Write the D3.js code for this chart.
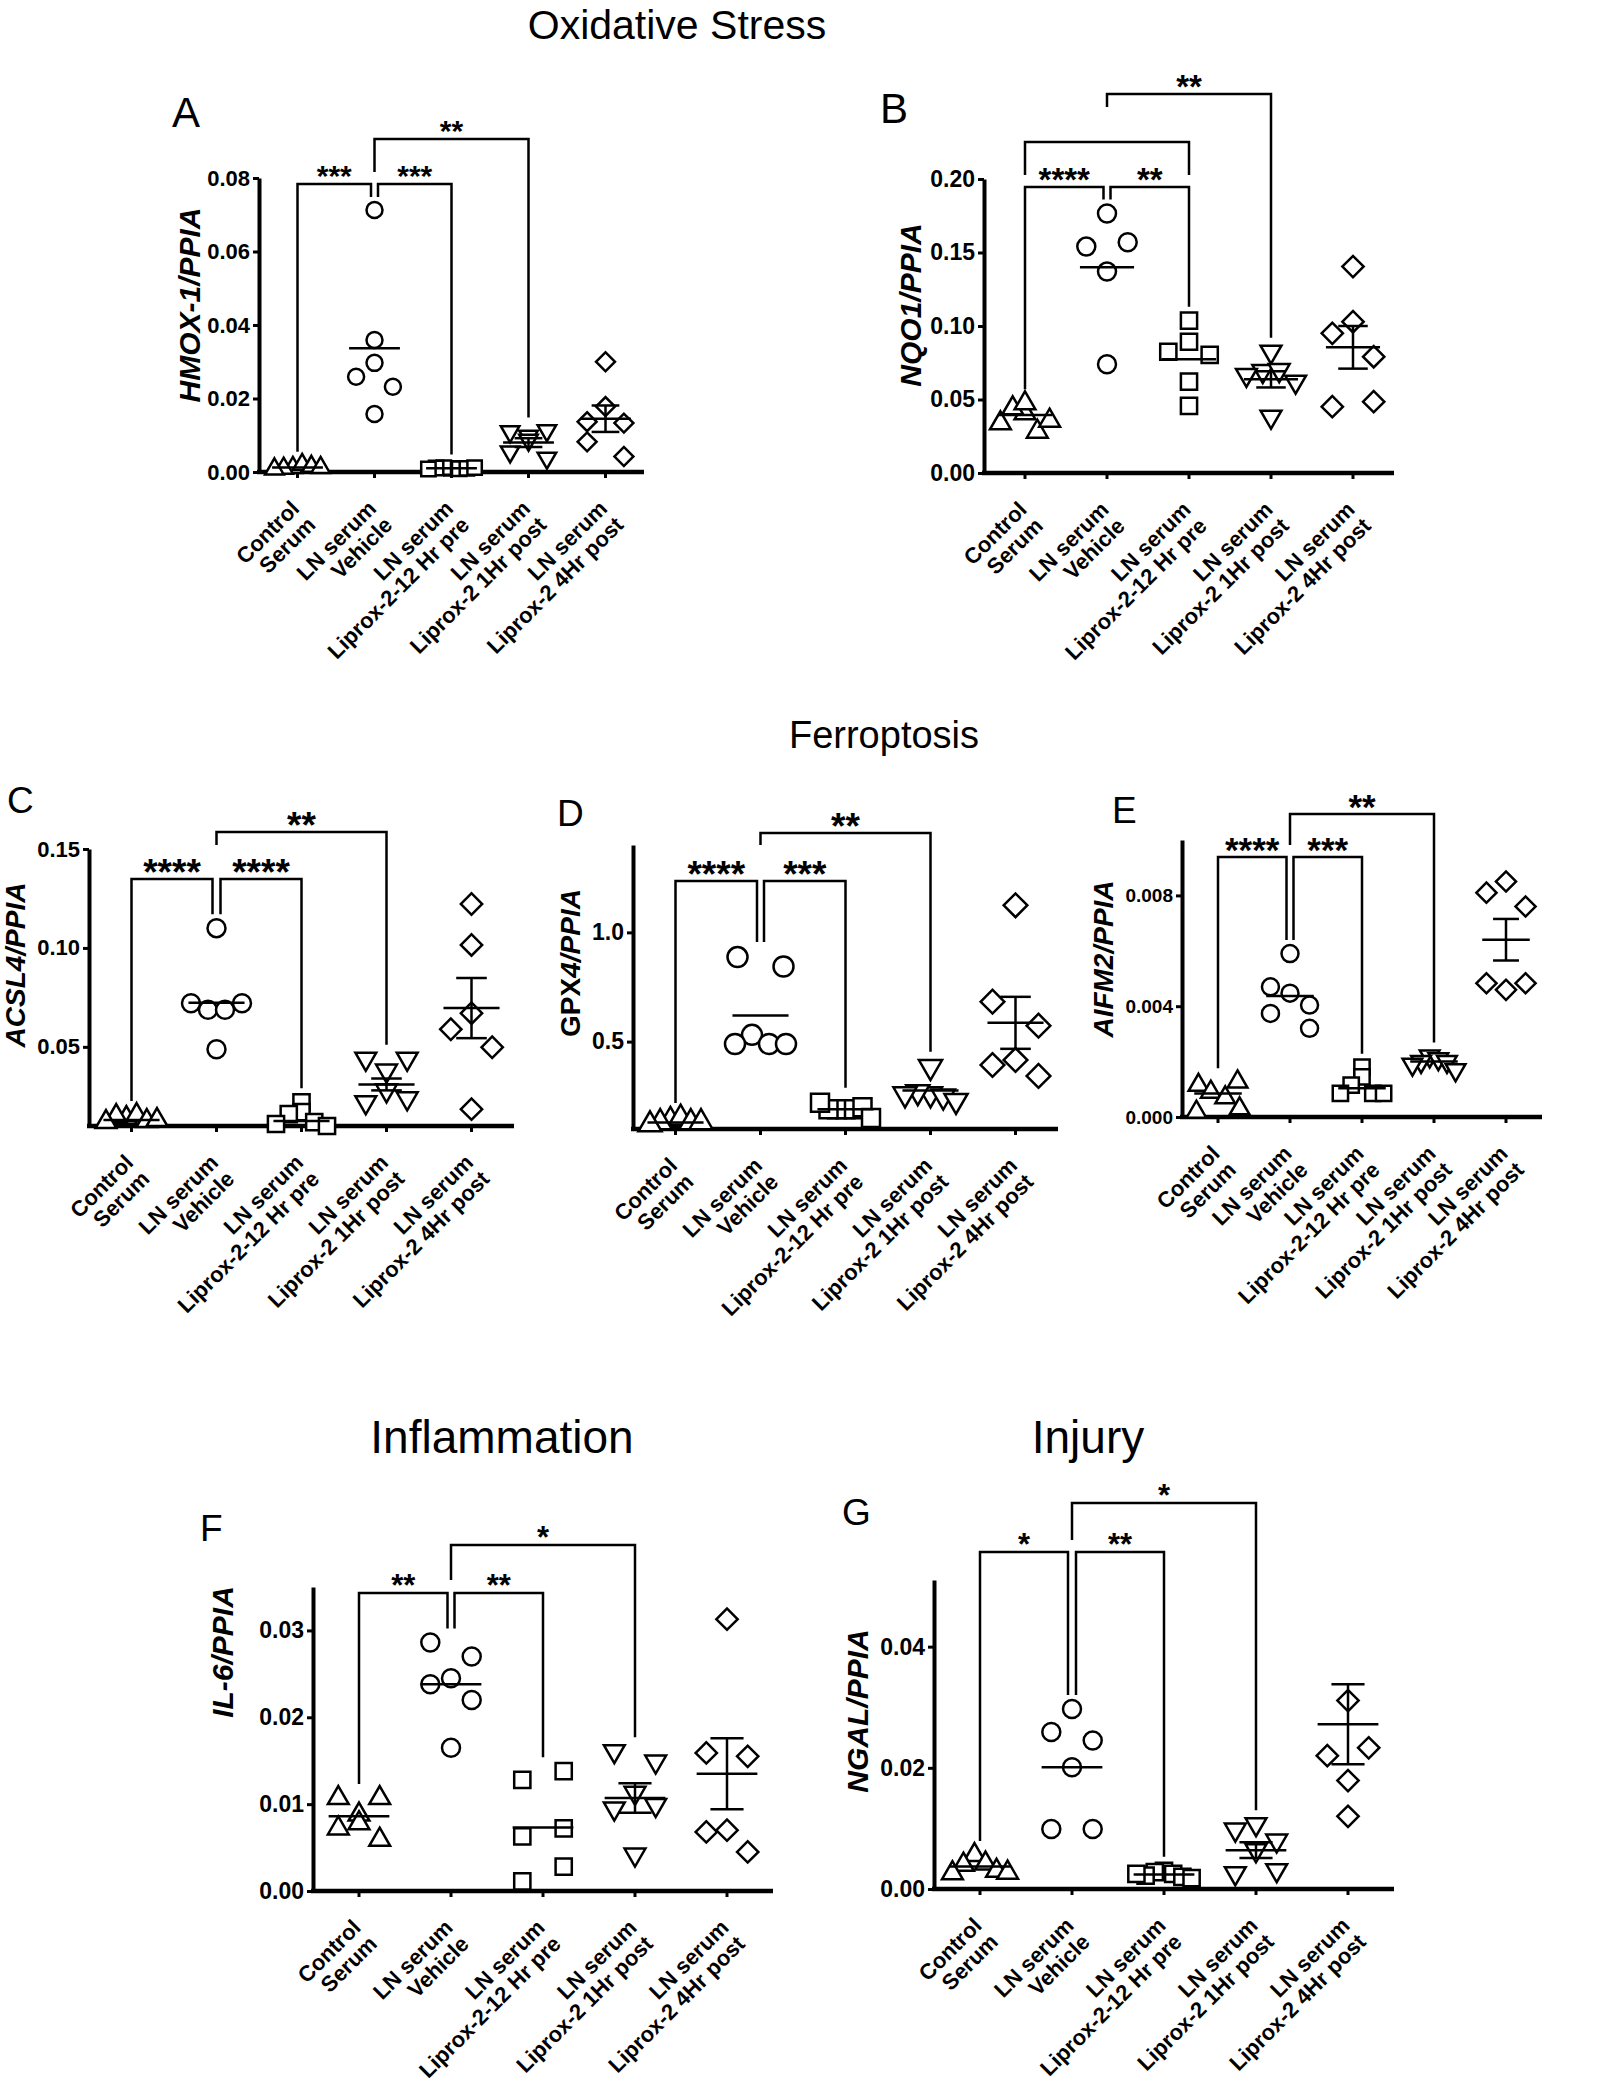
<!DOCTYPE html>
<html><head><meta charset="utf-8">
<script src="https://cdn.jsdelivr.net/npm/d3@7"></script>
<style>
body{margin:0;background:#fff}
svg{display:block}
text{font-family:"Liberation Sans",Arial,Helvetica,sans-serif;fill:#000}
</style>
</head><body>
<svg id="fig" width="1621" height="2100"></svg>
<script>
// ---------- shared categories ----------
const categoryLines = [
  ["Control", "Serum"],
  ["LN serum", "Vehicle"],
  ["LN serum", "Liprox-2-12 Hr pre"],
  ["LN serum", "Liprox-2 1Hr post"],
  ["LN serum", "Liprox-2 4Hr post"]
];
const markerShapes = ["triangleUp", "circle", "square", "triangleDown", "diamond"];
const sectionTitles = ["Oxidative Stress", "Ferroptosis", "Inflammation", "Injury"];

// ---------- A: HMOX-1/PPIA ----------
const hmoxValues = [
  [0.0012, 0.0020, 0.0010, 0.0015, 0.0008, 0.0012],
  [0.0713, 0.0359, 0.0297, 0.0259, 0.0232, 0.0158],
  [0.0010, 0.0012, 0.0009, 0.0011, 0.0010, 0.0008, 0.0012],
  [0.0098, 0.0110, 0.0113, 0.0087, 0.0055, 0.0038],
  [0.0300, 0.0178, 0.0137, 0.0133, 0.0082, 0.0042]
];
const hmoxMeans = [0.0012, 0.0337, 0.0010, 0.0080, 0.0145];
const hmoxSem = [null, null, null, 0.0012, 0.0036];
const hmoxTicks = [0, 0.02, 0.04, 0.06, 0.08];
const hmoxStars = [[0, 1, "***"], [1, 2, "***"], [1, 3, "**"]];

// ---------- B: NQO1/PPIA ----------
const nqoValues = [
  [0.0406, 0.0440, 0.0474, 0.0281, 0.0338, 0.0356],
  [0.1766, 0.1540, 0.1570, 0.1370, 0.0740],
  [0.1036, 0.0893, 0.0825, 0.0803, 0.0621, 0.0456],
  [0.0825, 0.0694, 0.0700, 0.0667, 0.0621, 0.0383],
  [0.1404, 0.1029, 0.0950, 0.0791, 0.0451, 0.0485]
];
const nqoMeans = [0.0395, 0.1400, 0.0773, 0.0637, 0.0855];
const nqoSem = [null, null, null, 0.0055, 0.0145];
const nqoTicks = [0, 0.05, 0.10, 0.15, 0.20];
const nqoStars = [[0, 1, "****"], [1, 2, "**"], [0, 2, ""], [1, 3, "**"]];

// ---------- C: ACSL4/PPIA ----------
const acslValues = [
  [0.0140, 0.0155, 0.0150, 0.0125, 0.0120, 0.0130],
  [0.1100, 0.0687, 0.0687, 0.0720, 0.0720, 0.0488],
  [0.0220, 0.0170, 0.0160, 0.0120, 0.0110, 0.0100],
  [0.0380, 0.0440, 0.0440, 0.0280, 0.0220, 0.0240],
  [0.1222, 0.1015, 0.0670, 0.0589, 0.0498, 0.0185]
];
const acslMeans = [0.0130, 0.0723, 0.0125, 0.0310, 0.0696];
const acslSem = [null, null, null, 0.0030, 0.0152];
const acslTicks = [0.05, 0.10, 0.15];
const acslStars = [[0, 1, "****"], [1, 2, "****"], [1, 3, "**"]];

// ---------- D: GPX4/PPIA ----------
const gpxValues = [
  [0.14, 0.15, 0.13, 0.13, 0.12, 0.13],
  [0.887, 0.844, 0.531, 0.489, 0.489, 0.489],
  [0.19, 0.19, 0.19, 0.19, 0.20, 0.22, 0.15],
  [0.385, 0.26, 0.27, 0.25, 0.26, 0.23],
  [1.124, 0.683, 0.573, 0.416, 0.393, 0.343]
];
const gpxMeans = [0.13, 0.619, 0.19, 0.276, 0.586];
const gpxSem = [null, null, null, null, 0.119];
const gpxTicks = [0.5, 1.0];
const gpxStars = [[0, 1, "****"], [1, 2, "***"], [1, 3, "**"]];

// ---------- E: AIFM2/PPIA ----------
const aifmValues = [
  [0.00115, 0.00127, 0.0009, 0.0007, 0.00018, 0.0003],
  [0.0059, 0.00447, 0.0047, 0.00404, 0.00374, 0.0032],
  [0.0018, 0.00145, 0.00115, 0.00085, 0.00085, 0.00085],
  [0.0022, 0.0021, 0.0020, 0.0020, 0.0019, 0.0017],
  [0.0085, 0.0081, 0.0076, 0.00459, 0.00483, 0.00483]
];
const aifmMeans = [0.00085, 0.00437, 0.00104, 0.0020, 0.0064];
const aifmSem = [null, null, null, null, 0.00075];
const aifmTicks = [0, 0.004, 0.008];
const aifmStars = [[0, 1, "****"], [1, 2, "***"], [1, 3, "**"]];

// ---------- F: IL-6/PPIA ----------
const il6Values = [
  [0.0088, 0.0107, 0.0107, 0.0078, 0.0072, 0.0059],
  [0.0286, 0.0270, 0.0245, 0.0238, 0.0220, 0.0165],
  [0.0128, 0.0138, 0.0063, 0.0072, 0.0011, 0.0028],
  [0.0161, 0.0149, 0.0113, 0.0095, 0.0099, 0.0042],
  [0.0313, 0.0159, 0.0155, 0.0070, 0.0068, 0.0045]
];
const il6Means = [0.0086, 0.0238, 0.0073, 0.0107, 0.0135];
const il6Sem = [null, null, null, 0.0017, 0.0041];
const il6Ticks = [0, 0.01, 0.02, 0.03];
const il6Stars = [[0, 1, "**"], [1, 2, "**"], [1, 3, "*"]];

// ---------- G: NGAL/PPIA ----------
const ngalValues = [
  [0.0056, 0.0042, 0.0040, 0.0030, 0.0026, 0.0027],
  [0.0297, 0.0259, 0.0245, 0.0201, 0.0099, 0.0099],
  [0.0030, 0.0028, 0.0025, 0.0022, 0.0020, 0.0025, 0.0018],
  [0.0107, 0.0098, 0.0080, 0.0064, 0.0026, 0.0031],
  [0.0311, 0.0220, 0.0233, 0.0179, 0.0120]
];
const ngalMeans = [0.0037, 0.0201, 0.0024, 0.0064, 0.0272];
const ngalSem = [null, null, null, 0.0013, 0.0066];
const ngalTicks = [0, 0.02, 0.04];
const ngalStars = [[0, 1, "*"], [1, 2, "**"], [1, 3, "*"]];

// ---------- layout (positions / sizes only) ----------
const panels = [
  {letter: "A", lx: 172, ly: 127, lsize: 42, values: hmoxValues, means: hmoxMeans, sem: hmoxSem, ticks: hmoxTicks, stars: hmoxStars,
   fmt: ".2f", domain: [0, 0.08], x0: 259, x1: 644, yBot: 472, yTop: 178, s: 16, starSize: 30, tickSize: 22,
   ylabel: [["HMOX-1/PPIA", "italic"]], yx: 200, yy: 305, ysize: 30,
   br: [{y: 184, legs: ["d", "d"], dx: [0, -3.5]}, {y: 184, legs: ["d", "d"], dx: [3.5, 0]}, {y: 139, legs: [33, "d"], dx: [0, 0]}]},
  {letter: "B", lx: 880, ly: 123, lsize: 42, values: nqoValues, means: nqoMeans, sem: nqoSem, ticks: nqoTicks, stars: nqoStars,
   fmt: ".2f", domain: [0, 0.20], x0: 984, x1: 1394, yBot: 473, yTop: 179, s: 18, starSize: 33, tickSize: 23,
   ylabel: [["NQO1/PPIA", "italic"]], yx: 921, yy: 305, ysize: 30,
   br: [{y: 187, legs: ["d", "d"], dx: [0, -3.5]}, {y: 187, legs: ["d", "d"], dx: [3.5, 0]}, {y: 142, legs: [33, 33], dx: [0, 0]}, {y: 94, legs: [13, "d"], dx: [0, 0]}]},
  {letter: "C", lx: 7, ly: 813, lsize: 37, values: acslValues, means: acslMeans, sem: acslSem, ticks: acslTicks, stars: acslStars,
   fmt: ".2f", domain: [0.01, 0.15], x0: 89, x1: 514, yBot: 1126, yTop: 849, s: 18, starSize: 37, tickSize: 22,
   ylabel: [["ACSL4/PPIA", "italic"]], yx: 25, yy: 965, ysize: 28,
   br: [{y: 879, legs: ["d", "d"], dx: [0, -4]}, {y: 879, legs: ["d", "d"], dx: [4, 0]}, {y: 832, legs: [13, "d"], dx: [0, 0]}]},
  {letter: "D", lx: 557, ly: 826, lsize: 37, values: gpxValues, means: gpxMeans, sem: gpxSem, ticks: gpxTicks, stars: gpxStars,
   fmt: ".1f", domain: [0.1, 1.4], x0: 633, x1: 1058, yBot: 1129, yTop: 845, s: 20, starSize: 37, tickSize: 23,
   ylabel: [["GPX", "normal"], ["4/PPIA", "italic"]], yx: 580, yy: 963, ysize: 28,
   br: [{y: 881, legs: ["d", "d"], dx: [0, -3.5]}, {y: 881, legs: ["d", "d"], dx: [3.5, 0]}, {y: 833, legs: [12, "d"], dx: [0, 0]}]},
  {letter: "E", lx: 1112, ly: 823, lsize: 37, values: aifmValues, means: aifmMeans, sem: aifmSem, ticks: aifmTicks, stars: aifmStars,
   fmt: ".3f", domain: [0, 0.010], x0: 1182, x1: 1542, yBot: 1117, yTop: 840, s: 17, starSize: 35, tickSize: 19,
   ylabel: [["AIFM2/PPIA", "italic"]], yx: 1113, yy: 959, ysize: 28,
   br: [{y: 857, legs: ["d", "d"], dx: [0, -3.5]}, {y: 857, legs: ["d", "d"], dx: [3.5, 0]}, {y: 814, legs: [31, "d"], dx: [0, 0]}]},
  {letter: "F", lx: 200, ly: 1541, lsize: 37, values: il6Values, means: il6Means, sem: il6Sem, ticks: il6Ticks, stars: il6Stars,
   fmt: ".2f", domain: [0, 0.035], x0: 313, x1: 773, yBot: 1891, yTop: 1587, s: 18, starSize: 31, tickSize: 23,
   ylabel: [["IL-6/PPIA", "italic"]], yx: 233, yy: 1652, ysize: 30,
   br: [{y: 1593, legs: ["d", "d"], dx: [0, -3.5]}, {y: 1593, legs: ["d", "d"], dx: [3.5, 0]}, {y: 1545, legs: [35, "d"], dx: [0, 0]}]},
  {letter: "G", lx: 842, ly: 1525, lsize: 37, values: ngalValues, means: ngalMeans, sem: ngalSem, ticks: ngalTicks, stars: ngalStars,
   fmt: ".2f", domain: [0, 0.051], x0: 934, x1: 1394, yBot: 1889, yTop: 1580, s: 18, starSize: 31, tickSize: 23,
   ylabel: [["NGAL/PPIA", "italic"]], yx: 868, yy: 1711, ysize: 30,
   br: [{y: 1552, legs: ["d", "d"], dx: [0, -4]}, {y: 1552, legs: ["d", "d"], dx: [4, 0]}, {y: 1503, legs: [37, "d"], dx: [0, 0]}]}
];
const titleLayout = [
  {x: 677, y: 39, size: 41}, {x: 884, y: 748, size: 38}, {x: 502, y: 1453, size: 46}, {x: 1088, y: 1453, size: 46}
];

const svg = d3.select("#fig");

// section titles
svg.selectAll("text.title").data(sectionTitles).join("text").attr("class", "title")
  .attr("x", (d, i) => titleLayout[i].x).attr("y", (d, i) => titleLayout[i].y)
  .attr("text-anchor", "middle").attr("font-size", (d, i) => titleLayout[i].size).text(d => d);

function markerPath(type, s) {
  switch (type) {
    case "circle": return d3.symbol(d3.symbolCircle, Math.PI * s * s / 4)();
    case "square": return d3.symbol(d3.symbolSquare, (0.9 * s) ** 2)();
    case "diamond": return d3.symbol(d3.symbolSquare, 0.7 * s * s)();
    default: return d3.symbol(d3.symbolTriangle, 0.58 * s * s)();
  }
}
function markerRot(type) { return type === "diamond" ? 45 : (type === "triangleDown" ? 180 : 0); }

// scatter layout: points falling in the same row are spread horizontally
function swarm(vals, y, s, bw) {
  const order = vals.map((v, i) => i).sort((a, b) => vals[a] - vals[b]);
  const rows = [];
  let cur = null;
  order.forEach(i => {
    const py = y(vals[i]);
    if (cur && Math.abs(py - cur.start) <= 1.3 * s) cur.items.push(i);
    else { cur = {start: py, items: [i]}; rows.push(cur); }
  });
  const off = new Array(vals.length).fill(0);
  rows.forEach(r => {
    const n = r.items.length;
    if (n === 1) return;
    const items = r.items.slice().sort((a, b) => a - b);
    let slots, step;
    if (n === 2) { slots = [-1, 1]; step = 1.15 * s; }
    else if (n === 3) { slots = [0, -1, 1]; step = 1.15 * s; }
    else {
      slots = d3.range(n).map(k => k - (n - 1) / 2).sort((a, b) => Math.abs(a) - Math.abs(b) || a - b);
      step = Math.min(1.15 * s, 0.6 * bw / (n - 1));
    }
    items.forEach((it, k) => off[it] = slots[k] * step);
  });
  return off;
}

function drawPanel(p) {
  const g = svg.append("g");
  const y = d3.scaleLinear().domain(p.domain).range([p.yBot, p.yTop]);
  const x = d3.scaleBand().domain(d3.range(5)).range([p.x0, p.x1]);
  const bw = x.bandwidth();
  const cx = i => x(i) + bw / 2;

  // panel letter
  g.append("text").attr("x", p.lx).attr("y", p.ly).attr("font-size", p.lsize).text(p.letter);

  // y axis
  const ya = g.append("g").attr("transform", `translate(${p.x0},0)`)
    .call(d3.axisLeft(y).tickValues(p.ticks).tickFormat(d3.format(p.fmt)).tickSize(6).tickSizeOuter(0).tickPadding(3));
  ya.select(".domain").attr("stroke", "#000").attr("stroke-width", 4);
  ya.selectAll(".tick line").attr("stroke", "#000").attr("stroke-width", 3);
  ya.selectAll(".tick text").attr("font-size", p.tickSize).attr("font-weight", "bold")
    .attr("font-family", "'Liberation Sans',Arial,sans-serif").attr("fill", "#000");

  // x axis
  const xa = g.append("g").attr("transform", `translate(0,${p.yBot})`)
    .call(d3.axisBottom(x).tickSize(6).tickSizeOuter(0).tickFormat(""));
  xa.select(".domain").attr("stroke", "#000").attr("stroke-width", 4.5).attr("d", `M${p.x0 - 2},0H${p.x1}`);
  xa.selectAll(".tick line").attr("stroke", "#000").attr("stroke-width", 3);

  // category labels (rotated, two lines)
  const lab = g.selectAll("g.xl").data(categoryLines).join("g").attr("class", "xl")
    .attr("transform", (d, i) => `translate(${cx(i) + 3},${p.yBot + 38}) rotate(-45)`);
  lab.selectAll("text").data(d => d).join("text")
    .attr("x", 0).attr("y", (d, j) => j * 23)
    .attr("text-anchor", "end").attr("font-size", 22).attr("font-weight", "bold").text(d => d);

  // y label
  const yl = g.append("text").attr("transform", `translate(${p.yx},${p.yy}) rotate(-90)`)
    .attr("text-anchor", "middle").attr("font-size", p.ysize).attr("font-weight", "bold");
  p.ylabel.forEach(([t, st]) => yl.append("tspan").attr("font-style", st).text(t));

  // points
  p.values.forEach((vals, gi) => {
    const off = swarm(vals, y, p.s, bw);
    const type = markerShapes[gi];
    g.append("g").selectAll("path").data(vals).join("path")
      .attr("d", markerPath(type, p.s))
      .attr("transform", (d, k) => `translate(${cx(gi) + off[k]},${y(d)}) rotate(${markerRot(type)})`)
      .attr("fill", "#fff").attr("stroke", "#000").attr("stroke-width", 2.5);
  });

  // mean lines and SEM bars
  g.append("g").selectAll("line").data(p.means).join("line")
    .attr("x1", (d, i) => cx(i) - 0.33 * bw).attr("x2", (d, i) => cx(i) + 0.33 * bw)
    .attr("y1", d => y(d)).attr("y2", d => y(d))
    .attr("stroke", "#000").attr("stroke-width", 2.5);
  p.sem.forEach((se, i) => {
    if (se == null) return;
    const m = p.means[i];
    const eg = g.append("g").attr("stroke", "#000").attr("stroke-width", 2.5);
    eg.append("line").attr("x1", cx(i)).attr("x2", cx(i)).attr("y1", y(m - se)).attr("y2", y(m + se));
    [m - se, m + se].forEach(v => eg.append("line")
      .attr("x1", cx(i) - 0.18 * bw).attr("x2", cx(i) + 0.18 * bw).attr("y1", y(v)).attr("y2", y(v)));
  });

  // significance brackets
  p.stars.forEach(([a, b, label], k) => {
    const L = p.br[k];
    const xa0 = cx(a) + L.dx[0], xb0 = cx(b) + L.dx[1];
    const legEnd = (leg, gi) => leg === "d" ? y(d3.max(p.values[gi])) - (p.s / 2 + 5) : L.y + leg;
    const path = `M${xa0},${legEnd(L.legs[0], a)}V${L.y}H${xb0}V${legEnd(L.legs[1], b)}`;
    g.append("path").attr("d", path).attr("fill", "none").attr("stroke", "#000").attr("stroke-width", 2.5);
    if (label) g.append("text").attr("x", (xa0 + xb0) / 2).attr("y", L.y - 15 + 0.57 * p.starSize)
      .attr("text-anchor", "middle").attr("font-size", p.starSize).attr("font-weight", "bold").text(label);
  });
}
panels.forEach(drawPanel);
</script>
</body></html>
